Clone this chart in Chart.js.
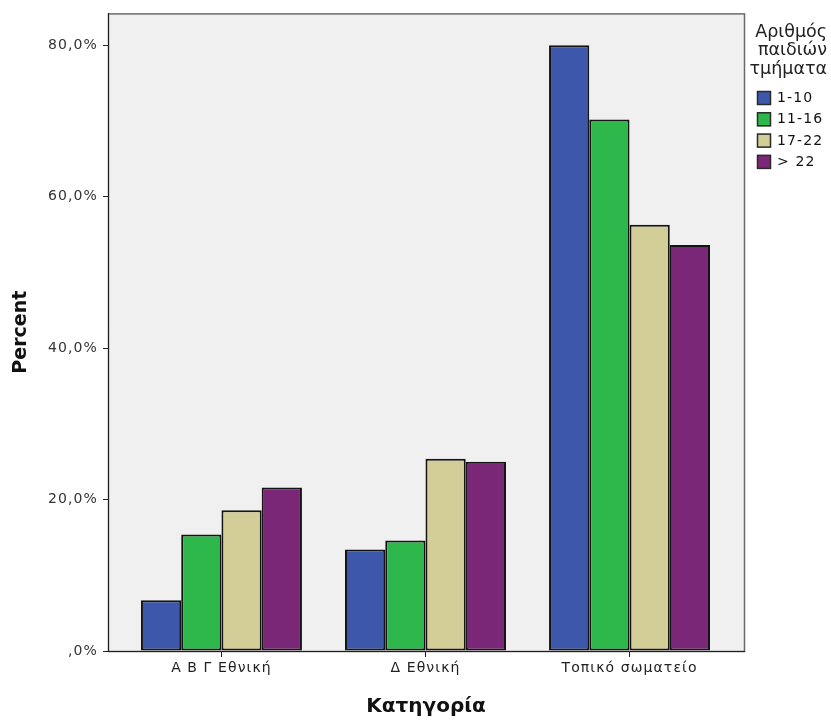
<!DOCTYPE html>
<html><head><meta charset="utf-8">
<script src="https://cdn.jsdelivr.net/npm/chart.js@4.4.1/dist/chart.umd.min.js"></script>
<style>html,body{margin:0;padding:0;background:#fff}canvas{display:block}</style>
</head><body>
<canvas id="c" width="831" height="722"></canvas>
<script>
const categories = ['Α Β Γ Εθνική', 'Δ Εθνική', 'Τοπικό σωματείο'];
const seriesNames = ['1-10', '11-16', '17-22', '> 22'];
const values_1_10 = [6.7, 13.4, 80.0];
const values_11_16 = [15.4, 14.6, 70.2];
const values_17_22 = [18.6, 25.4, 56.3];
const values_over22 = [21.6, 25.0, 53.6];
const yTicks = [0, 20, 40, 60, 80];
const yTickLabels = [',0%', '20,0%', '40,0%', '60,0%', '80,0%'];
const legendTitle = ['Αριθμός', 'παιδιών', 'τμήματα'];
const xTitle = 'Κατηγορία';
const yTitle = 'Percent';

const seriesValues = [values_1_10, values_11_16, values_17_22, values_over22];
const seriesColors = ['#3d58aa', '#2eb84b', '#d3ce97', '#7b2777'];

const datasets = seriesNames.map((name, s) => ({
  label: name,
  data: categories.map((c, i) => ({x: i, y: seriesValues[s][i]})),
  backgroundColor: seriesColors[s],
  borderColor: '#141414',
  borderWidth: 2,
  borderSkipped: false,
  categoryPercentage: 0.789,
  barPercentage: 1.0
}));

const SPACING = '1.1px';

const framePlugin = {
  id: 'frame',
  beforeDraw(chart) {
    const {ctx, chartArea: a} = chart;
    ctx.letterSpacing = '0px';
    ctx.save();
    ctx.fillStyle = '#f0f0f0';
    ctx.fillRect(a.left, a.top, a.right - a.left, a.bottom - a.top);
    ctx.strokeStyle = '#6a6a6a';
    ctx.lineWidth = 1.5;
    ctx.strokeRect(a.left + 0.5, a.top + 0.5, a.right - a.left, a.bottom - a.top);
    ctx.restore();
  },
  afterDatasetsDraw(chart) {
    chart.ctx.letterSpacing = SPACING;
  },
  afterDraw(chart) {
    const ctx = chart.ctx;
    ctx.save();
    ctx.letterSpacing = '0px';
    ctx.fillStyle = '#222';
    ctx.font = '17.5px "DejaVu Sans"';
    ctx.textAlign = 'right';
    ctx.textBaseline = 'middle';
    legendTitle.forEach((t, i) => ctx.fillText(t, 827, 32 + i * 18.5));
    ctx.letterSpacing = SPACING;
    ctx.font = '14px "DejaVu Sans"';
    ctx.textAlign = 'left';
    chart.data.datasets.forEach((ds, i) => {
      const y = 91 + i * 21.3;
      ctx.fillStyle = ds.backgroundColor;
      ctx.fillRect(757, y, 14, 14);
      ctx.strokeStyle = '#2a2a2a';
      ctx.lineWidth = 1.5;
      ctx.strokeRect(757.5, y + 0.5, 13, 13);
      ctx.fillStyle = '#111';
      ctx.fillText(ds.label, 777, y + 7.5);
    });
    ctx.restore();
  }
};

new Chart(document.getElementById('c'), {
  type: 'bar',
  data: {datasets},
  plugins: [framePlugin],
  options: {
    responsive: false,
    devicePixelRatio: 1,
    animation: false,
    layout: {padding: {left: 0, right: 87, top: 12, bottom: 0}},
    plugins: {legend: {display: false}, tooltip: {enabled: false}},
    scales: {
      x: {
        type: 'linear',
        min: -0.556,
        max: 2.561,
        offset: false,
        afterBuildTicks: s => { s.ticks = categories.map((c, i) => ({value: i})); },
        afterFit: s => { s.height = 71; },
        grid: {display: true, offset: false, drawOnChartArea: false, drawTicks: true, tickLength: 6, color: '#222', lineWidth: 1},
        border: {display: true, color: '#1e1e1e', width: 1},
        ticks: {
          z: 1,
          autoSkip: false,
          maxRotation: 0,
          padding: 3,
          color: '#222',
          font: {family: 'DejaVu Sans', size: 14},
          callback: v => categories[v]
        },
        title: {display: true, text: xTitle, color: '#111', font: {family: 'DejaVu Sans', size: 20, weight: 'bold'}, padding: {top: 0, bottom: 3}}
      },
      y: {
        min: 0,
        max: 84.2,
        afterBuildTicks: s => { s.ticks = yTicks.map(v => ({value: v})); },
        afterFit: s => { s.width = 108; },
        grid: {display: true, drawOnChartArea: false, drawTicks: true, tickLength: 5, color: '#222', lineWidth: 1},
        border: {display: true, color: '#1e1e1e', width: 1},
        ticks: {
          z: 1,
          padding: 5,
          color: '#333',
          font: {family: 'DejaVu Sans', size: 14},
          callback: v => yTickLabels[yTicks.indexOf(v)]
        },
        title: {display: true, text: yTitle, color: '#111', font: {family: 'DejaVu Sans', size: 19, weight: 'bold'}, padding: {top: 10, bottom: 0}}
      }
    }
  }
});
</script>
</body></html>
